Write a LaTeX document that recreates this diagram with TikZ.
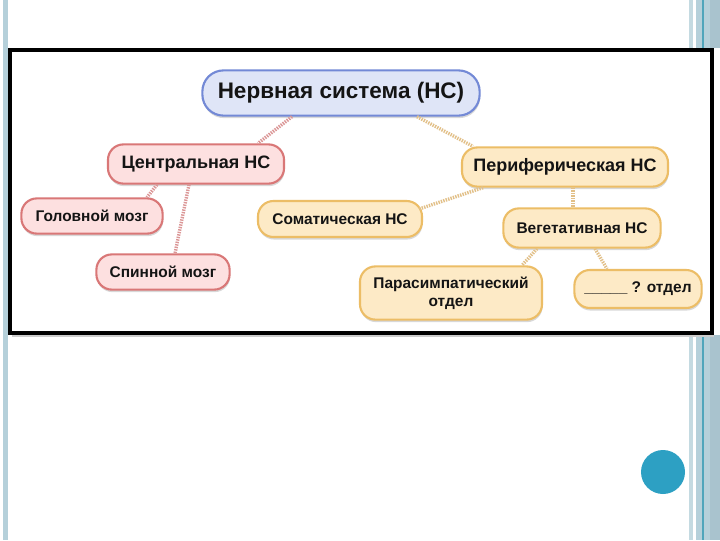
\documentclass[tikz,border=0pt]{standalone}
\usepackage{fontspec}
\setmainfont{Liberation Sans}
\usepackage{xcolor}
\usetikzlibrary{shapes,positioning,calc,shadows}

\definecolor{barlight}{HTML}{B5D0DA}
\definecolor{bardark}{HTML}{A9C3CE}
\definecolor{barline}{HTML}{4FA5BB}
\definecolor{dotblue}{HTML}{2DA0C3}
\definecolor{rootfill}{HTML}{DFE5F7}
\definecolor{rootline}{HTML}{7389D6}
\definecolor{cnsfill}{HTML}{FDE0E0}
\definecolor{cnsline}{HTML}{D97777}
\definecolor{pnsfill}{HTML}{FDEAC6}
\definecolor{pnsline}{HTML}{ECBD66}
\definecolor{cnsdots}{HTML}{DB9696}
\definecolor{pnsdots}{HTML}{E2C088}

\begin{document}
\begin{tikzpicture}[x=0.025cm, y=-0.025cm,
    box/.style={rounded corners=11pt, line width=1.5pt, align=center,
        text=black!92, font=\bfseries,
        drop shadow={opacity=0.3, shadow xshift=0.4pt, shadow yshift=-1.8pt}},
    rootbox/.style={box, fill=rootfill, draw=rootline, rounded corners=15pt,
        font=\fontsize{16}{19}\selectfont\bfseries},
    cnsbox/.style={box, fill=cnsfill, draw=cnsline},
    pnsbox/.style={box, fill=pnsfill, draw=pnsline},
    big/.style={font=\fontsize{12.8}{15}\selectfont\bfseries},
    small/.style={font=\fontsize{11}{13}\selectfont\bfseries},
    cnslink/.style={draw=cnsdots, line width=2.4pt, dash pattern=on 1pt off 0.8pt},
    pnslink/.style={draw=pnsdots, line width=2.4pt, dash pattern=on 1pt off 0.8pt}]
    \useasboundingbox (0,0) rectangle (720,540);

    % Slide background
    \fill[white] (0,0) rectangle (720,540);
    \fill[barlight] (3,0) rectangle (8,540);
    \fill[barlight!80] (689,0) rectangle (693,540);
    \fill[barlight] (696,0) rectangle (710,540);
    \fill[barline] (702,0) rectangle (703.5,540);
    \fill[bardark] (710,0) rectangle (720,540);
    \fill[dotblue] (663,472) circle (22);

    % Screenshot frame
    \fill[black!20] (12,334) rectangle (714,337);
    \fill[white] (8,48) rectangle (720,335);
    \draw[line width=2.6pt] (10,50) rectangle (712,333);

    % Nodes
    \node[rootbox, minimum width=6.93cm, minimum height=1.13cm] (ns) at (341,93) {Нервная система (НС)};
    \node[cnsbox, big, minimum width=4.4cm, minimum height=0.98cm] (cns) at (196,164) {Центральная НС};
    \node[cnsbox, small, minimum width=3.53cm, minimum height=0.88cm] (brain) at (92,216) {Головной мозг};
    \node[cnsbox, small, minimum width=3.33cm, minimum height=0.88cm] (spine) at (163,272) {Спинной мозг};
    \node[pnsbox, big, minimum width=5.15cm, minimum height=0.98cm] (pns) at (565,167) {Периферическая НС};
    \node[pnsbox, small, minimum width=4.1cm, minimum height=0.9cm] (somatic) at (340,219) {Соматическая НС};
    \node[pnsbox, small, minimum width=3.93cm, minimum height=0.98cm] (autonomic) at (582,228) {Вегетативная НС};
    \node[pnsbox, small, minimum width=4.55cm, minimum height=1.33cm] (parasym) at (451,293) {Парасимпатический\\отдел};
    \node[pnsbox, small, minimum width=3.18cm, minimum height=0.95cm] (unknown) at (638,289) {\_\_\_\_\_ ? отдел};

    % Links
    \draw[cnslink] ($(ns.south)+(-49,0)$) -- ($(cns.north)+(62,0)$);
    \draw[pnslink] ($(ns.south)+(76,0)$) -- ($(pns.north)+(-92,0)$);
    \draw[cnslink] ($(cns.south)+(-39,0)$) -- ($(brain.north)+(55,0)$);
    \draw[cnslink] ($(cns.south)+(-7,0)$) -- ($(spine.north)+(12,0)$);
    \draw[pnslink] ($(pns.south)+(-82,0)$) -- ($(somatic.east)+(-4,-10)$);
    \draw[pnslink] ($(pns.south)+(8,0)$) -- ($(autonomic.north)+(-9,0)$);
    \draw[pnslink] ($(autonomic.south)+(-45,0)$) -- ($(parasym.north)+(71,0)$);
    \draw[pnslink] ($(autonomic.south)+(13,0)$) -- ($(unknown.north)+(-31,0)$);
\end{tikzpicture}
\end{document}
